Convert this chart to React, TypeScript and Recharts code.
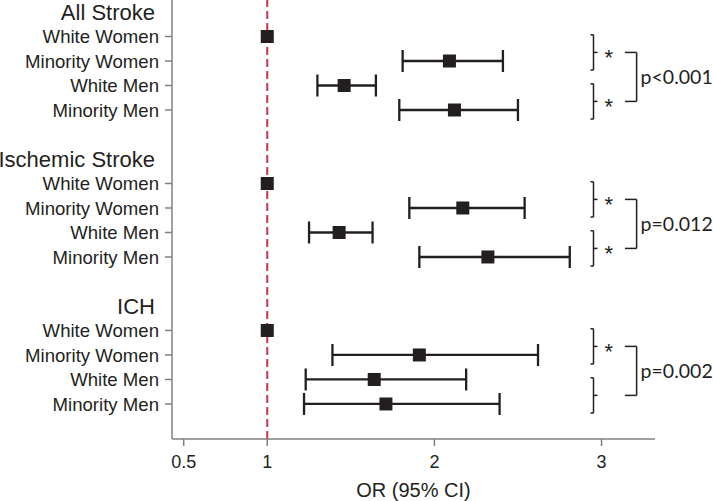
import React from 'react'
import {
  ComposedChart,
  Scatter,
  ErrorBar,
  XAxis,
  YAxis,
  ReferenceLine,
} from 'recharts'

// groups and subgroups, in the order they go down the chart
const groups = ['All Stroke', 'Ischemic Stroke', 'ICH']
const subgroups = ['White Women', 'Minority Women', 'White Men', 'Minority Men']

// odds ratios with 95% CI (White Women is the reference)
const orAll = [1, 2.09, 1.46, 2.12]
const loAll = [1, 1.81, 1.3, 1.79]
const hiAll = [1, 2.41, 1.65, 2.5]

const orIsch = [1, 2.17, 1.43, 2.32]
const loIsch = [1, 1.85, 1.25, 1.91]
const hiIsch = [1, 2.54, 1.63, 2.81]

const orIch = [1, 1.91, 1.64, 1.71]
const loIch = [1, 1.39, 1.23, 1.22]
const hiIch = [1, 2.62, 2.19, 2.39]

// comparison annotations per group: women pair, men pair, overall p
const womenStar = [true, true, true]
const menStar = [true, true, false]
const pValues = ['p<0.001', 'p=0.012', 'p=0.002']

const xTicks = [0.5, 1, 2, 3]

const INK = '#231f20'
const AXIS = '#808080'
const RED = '#c8354f'
const FONT = '"Liberation Sans", Arial, sans-serif'
const NOTE_FONT = 'Lato, sans-serif'
const ROWS_PER_GROUP = 6

const series = [
  { or: orAll, lo: loAll, hi: hiAll },
  { or: orIsch, lo: loIsch, hi: hiIsch },
  { or: orIch, lo: loIch, hi: hiIch },
]

const rowOf = (g: number, s: number) => g * ROWS_PER_GROUP + 1 + s

const points = series.flatMap((d, g) =>
  subgroups.map((name, s) => ({
    name,
    x: d.or[s],
    y: rowOf(g, s),
    err: [d.or[s] - d.lo[s], d.hi[s] - d.or[s]],
    ref: d.lo[s] === d.hi[s],
  }))
)
const refPoints = points.filter((p) => p.ref)
const ciPoints = points.filter((p) => !p.ref)

const rowLabels: Record<number, { text: string; header: boolean }> = {}
groups.forEach((g, gi) => {
  rowLabels[gi * ROWS_PER_GROUP] = { text: g, header: true }
  subgroups.forEach((s, si) => {
    rowLabels[rowOf(gi, si)] = { text: s, header: false }
  })
})
const yTicks = Object.keys(rowLabels).map(Number)

function RowTick(props: any) {
  const { x, y, payload } = props
  const item = rowLabels[payload.value]
  if (!item) return null
  if (item.header) {
    return (
      <text x={x - 4} y={y} dy="0.36em" textAnchor="end" fontSize={22} fontFamily={FONT} fill={INK}>
        {item.text}
      </text>
    )
  }
  return (
    <g>
      <line x1={x + 6} x2={x + 13} y1={y} y2={y} stroke={AXIS} strokeWidth={1.5} />
      <text x={x} y={y} dy="0.36em" textAnchor="end" fontSize={18.6} fontFamily={FONT} fill={INK}>
        {item.text}
      </text>
    </g>
  )
}

const Square = (p: any) => (
  <rect x={p.cx - 6.5} y={p.cy - 6.5} width={13} height={13} fill={INK} />
)

// bracket geometry in data units
const BR_X = 2.952
const BR_IN = 2.934
const BR_OUT = 2.976
const BIG_X0 = 3.14
const BIG_X1 = 3.21

const starLabel = {
  value: '*',
  position: 'right' as const,
  offset: 7,
  fill: INK,
  stroke: 'none',
  fontSize: 22,
  fontFamily: FONT,
  dy: 5,
}

function brackets() {
  const out: React.ReactNode[] = []
  const common = { stroke: INK, strokeWidth: 1.5, ifOverflow: 'visible' as const }
  groups.forEach((_, g) => {
    const pairs = [
      { r: rowOf(g, 0), star: womenStar[g] },
      { r: rowOf(g, 2), star: menStar[g] },
    ]
    const mids: number[] = []
    pairs.forEach((pr, k) => {
      const top = pr.r - 0.07
      const bot = pr.r + 1.37
      const mid = (top + bot) / 2
      mids.push(mid)
      out.push(
        <ReferenceLine key={`v${g}${k}`} {...common} segment={[{ x: BR_X, y: top }, { x: BR_X, y: bot }]} />,
        <ReferenceLine key={`t${g}${k}`} {...common} segment={[{ x: BR_IN, y: top }, { x: BR_X, y: top }]} />,
        <ReferenceLine key={`b${g}${k}`} {...common} segment={[{ x: BR_IN, y: bot }, { x: BR_X, y: bot }]} />,
        <ReferenceLine
          key={`m${g}${k}`}
          {...common}
          segment={[{ x: BR_X, y: mid }, { x: BR_OUT, y: mid }]}
          label={pr.star ? starLabel : undefined}
        />
      )
    })
    out.push(
      <ReferenceLine key={`bt${g}`} {...common} segment={[{ x: BIG_X0, y: mids[0] }, { x: BIG_X1, y: mids[0] }]} />,
      <ReferenceLine key={`bb${g}`} {...common} segment={[{ x: BIG_X0, y: mids[1] }, { x: BIG_X1, y: mids[1] }]} />,
      <ReferenceLine
        key={`bv${g}`}
        {...common}
        segment={[{ x: BIG_X1, y: mids[0] }, { x: BIG_X1, y: mids[1] }]}
        label={{
          value: pValues[g],
          position: 'right',
          offset: 4,
          fill: INK,
          stroke: 'none',
          fontSize: 19.5,
          fontFamily: NOTE_FONT,
        }}
      />
    )
  })
  return out
}

export default function App() {
  return (
    <div style={{ position: 'absolute', left: 0, top: 0, fontFamily: FONT }}>
      <ComposedChart width={713} height={501} margin={{ top: 0, right: 58, bottom: 0, left: 0 }}>
        <XAxis
          type="number"
          dataKey="x"
          domain={[0.43, 3.32]}
          allowDataOverflow
          ticks={xTicks}
          height={62}
          stroke={AXIS}
          strokeWidth={1.5}
          tickSize={7}
          tickMargin={9}
          tick={{ fill: INK, fontSize: 18, fontFamily: FONT }}
          label={{ value: 'OR (95% CI)', position: 'insideBottom', offset: 4, fill: INK, fontSize: 20, fontFamily: FONT }}
        />
        <YAxis
          type="number"
          dataKey="y"
          domain={[-0.49, 17.43]}
          allowDataOverflow
          reversed
          ticks={yTicks}
          interval={0}
          width={172}
          stroke={AXIS}
          strokeWidth={1.5}
          tickLine={false}
          tickSize={7}
          tickMargin={6}
          tick={<RowTick />}
        />
        <ReferenceLine x={1} stroke={RED} strokeWidth={2} strokeDasharray="8 4" />
        <Scatter data={ciPoints} shape={Square} isAnimationActive={false}>
          <ErrorBar dataKey="err" direction="x" width={11} stroke={INK} strokeWidth={2.3} />
        </Scatter>
        <Scatter data={refPoints} shape={Square} isAnimationActive={false} />
        {brackets()}
      </ComposedChart>
    </div>
  )
}
